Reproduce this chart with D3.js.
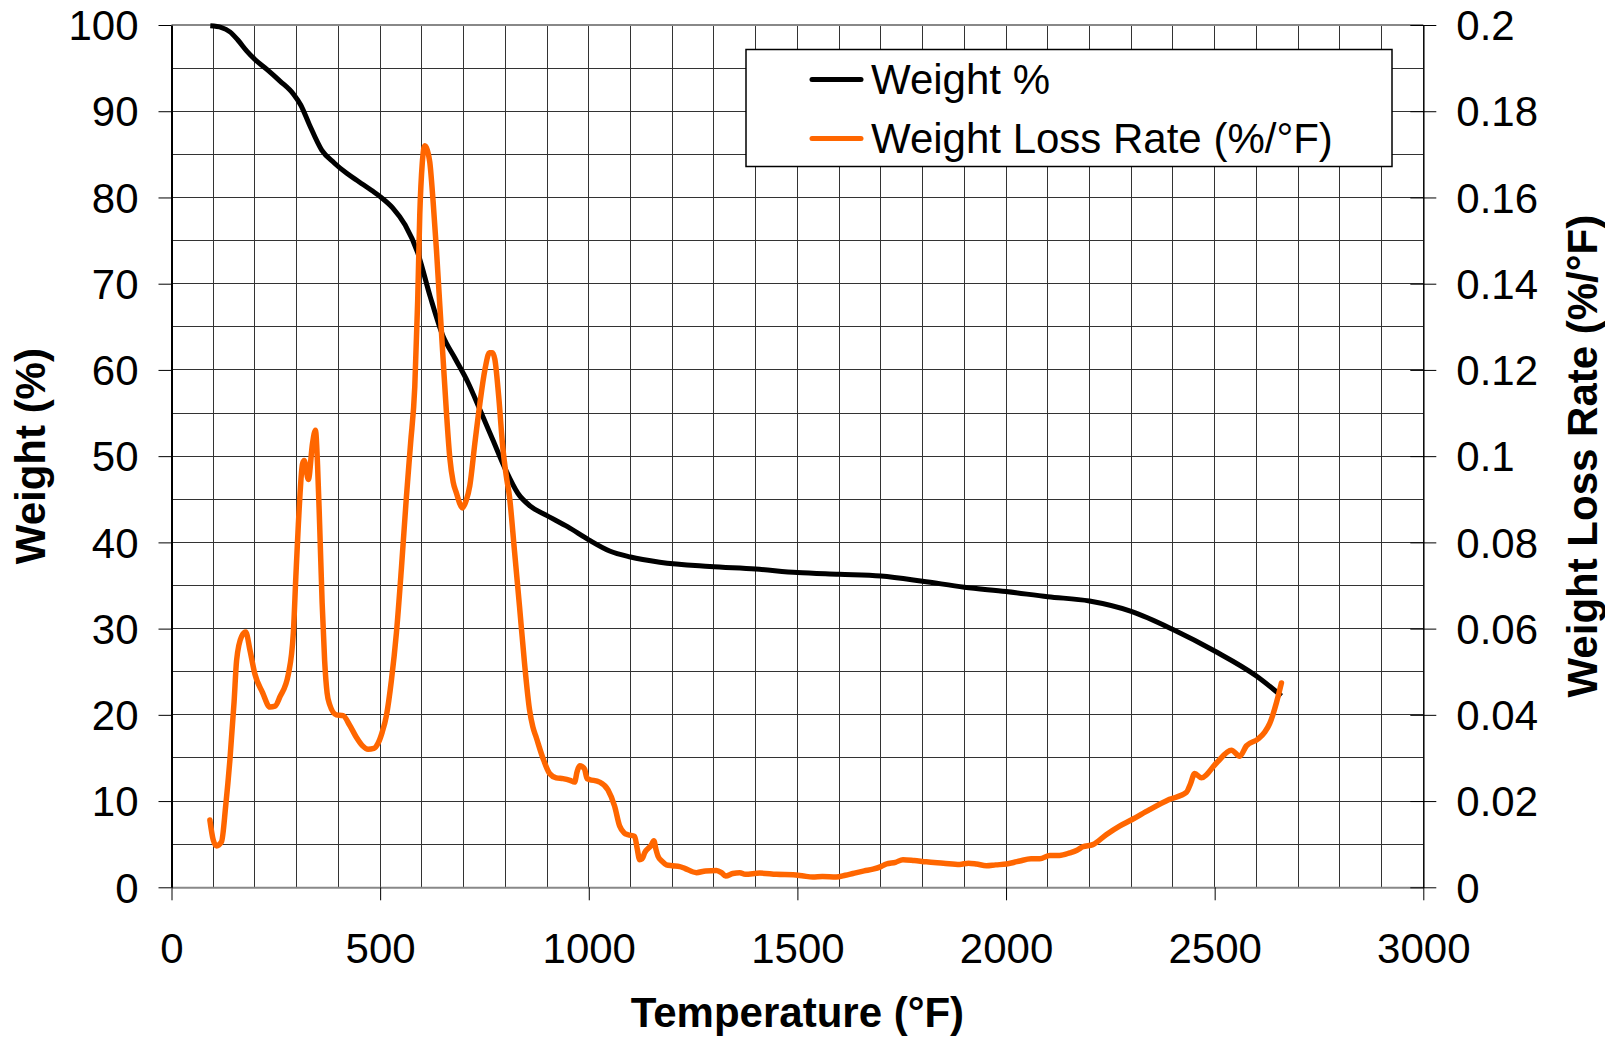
<!DOCTYPE html>
<html>
<head>
<meta charset="utf-8">
<script src="https://cdn.jsdelivr.net/npm/d3@7"></script>
<style>
  body { margin: 0; background: white; }
  svg { display: block; font-family: "Liberation Sans", Arial, sans-serif; }
  .grid line { stroke: #333; stroke-width: 1; shape-rendering: crispEdges; }
  .axis text { font-size: 42px; fill: black; }
  .axis-title { font-size: 42px; font-weight: bold; }
  .legend text { font-size: 42px; }
</style>
</head>
<body>
<div class="wrapper"></div>
<script>
const w = 1605
const h = 1037
const plotLeft = 171.5
const plotRight = 1423.3
const plotTop = 25
const plotBottom = 887.3

// Weight % curve
const weightTemps = [93, 120, 140, 160, 180, 200, 230, 260, 292, 310, 330, 360, 390, 420, 450, 480, 500, 530, 560, 590, 620, 650, 680, 710, 740, 770, 800, 830, 860, 900, 950, 1000, 1050, 1100, 1170, 1290, 1400, 1500, 1600, 1700, 1800, 1900, 2000, 2100, 2200, 2300, 2400, 2500, 2600, 2660]
const weightPct = [99.9, 99.7, 99.2, 98.2, 97.0, 96.0, 94.8, 93.5, 92.0, 90.7, 88.5, 85.5, 84.0, 82.8, 81.8, 80.8, 80.1, 78.8, 76.8, 73.6, 68.5, 64.0, 61.3, 58.6, 55.3, 51.9, 48.5, 45.7, 44.2, 43.1, 41.8, 40.3, 39.0, 38.3, 37.7, 37.2, 36.9, 36.5, 36.3, 36.1, 35.5, 34.8, 34.3, 33.7, 33.2, 32.0, 29.9, 27.4, 24.5, 22.2]

// Weight loss rate (%/°F) curve
const rateTemps = [92, 100, 108, 120, 130, 140, 150, 156, 168, 178, 188, 200, 218, 236, 248, 260, 280, 292, 298, 304,
  314, 318, 328, 338, 345, 350, 355, 361, 367, 373, 379, 395, 411, 427, 443, 458, 471, 485, 495, 505,
  515, 527, 539, 551, 563, 573, 583, 590, 595, 601, 607, 613, 619, 627, 635, 643, 651, 659, 667, 675,
  683, 690, 697, 706, 715, 727, 739, 751, 762, 769, 775, 784, 794, 802, 810, 822, 834, 846, 858, 866,
  874, 890, 906, 922, 938, 955, 966, 972, 978, 984, 990, 996, 1002, 1026, 1046, 1062, 1074, 1085, 1094, 1110,
  1116, 1122, 1128, 1134, 1150, 1156, 1161, 1166, 1176, 1186, 1200, 1218, 1230, 1258, 1280, 1306, 1318, 1328, 1345, 1362,
  1375, 1410, 1450, 1490, 1515, 1537, 1560, 1593, 1615, 1633, 1660, 1681, 1700, 1713, 1735, 1753, 1780, 1809, 1850, 1889,
  1910, 1929, 1953, 1975, 2001, 2020, 2033, 2060, 2081, 2105, 2128, 2153, 2170, 2184, 2208, 2240, 2272, 2300, 2344, 2392,
  2432, 2442, 2452, 2468, 2504, 2540, 2560, 2576, 2604, 2620, 2632, 2648, 2660]
const rateVals = [0.0156, 0.011, 0.0096, 0.0106, 0.019, 0.0296, 0.043, 0.0526, 0.0582, 0.0592, 0.055, 0.0494, 0.0452, 0.0418, 0.042, 0.0442, 0.0494, 0.059, 0.072, 0.0842,
  0.0982, 0.099, 0.0946, 0.103, 0.106, 0.098, 0.0842, 0.066, 0.0526, 0.045, 0.0424, 0.04, 0.0398, 0.0376, 0.0348, 0.0328, 0.032, 0.0322, 0.0334, 0.036,
  0.0398, 0.048, 0.059, 0.074, 0.0906, 0.103, 0.116, 0.136, 0.156, 0.168, 0.172, 0.171, 0.1682, 0.159, 0.1478, 0.135, 0.1224, 0.11, 0.0996, 0.094,
  0.0914, 0.0892, 0.088, 0.0896, 0.0932, 0.103, 0.1122, 0.12, 0.124, 0.124, 0.1224, 0.114, 0.102, 0.0956, 0.0906, 0.078, 0.0652, 0.052, 0.0412, 0.0372,
  0.0348, 0.03, 0.0264, 0.0254, 0.0252, 0.0248, 0.0244, 0.0268, 0.0282, 0.028, 0.0274, 0.0252, 0.025, 0.0244, 0.0226, 0.0188, 0.0142, 0.0126, 0.0122, 0.0118,
  0.009, 0.0064, 0.0066, 0.008, 0.0098, 0.0108, 0.0088, 0.0072, 0.006, 0.0052, 0.005, 0.0048, 0.0044, 0.0034, 0.0038, 0.0039, 0.0034, 0.0026, 0.0032, 0.0034,
  0.003, 0.0033, 0.003, 0.0029, 0.0026, 0.0024, 0.0025, 0.0024, 0.0028, 0.0032, 0.0038, 0.0042, 0.0048, 0.0054, 0.0058, 0.0064, 0.0062, 0.0059, 0.0056, 0.0053,
  0.0056, 0.0054, 0.005, 0.0052, 0.0054, 0.0058, 0.0061, 0.0066, 0.0066, 0.0074, 0.0074, 0.008, 0.0086, 0.0094, 0.0099, 0.0122, 0.0142, 0.0156, 0.018, 0.0204,
  0.022, 0.024, 0.0264, 0.0254, 0.0288, 0.0318, 0.0304, 0.0328, 0.0344, 0.036, 0.038, 0.0428, 0.0474]

const xTicks = [0, 500, 1000, 1500, 2000, 2500, 3000]
const yTicks = [0, 10, 20, 30, 40, 50, 60, 70, 80, 90, 100]
const rateTicks = [0, 0.02, 0.04, 0.06, 0.08, 0.1, 0.12, 0.14, 0.16, 0.18, 0.2]
const seriesNames = ["Weight %", "Weight Loss Rate (%/°F)"]
const seriesColors = ["#000000", "#ff6600"]

const xScale = d3.scaleLinear().domain([0, 3000]).range([plotLeft, plotRight])
const yScale = d3.scaleLinear().domain([0, 100]).range([plotBottom, plotTop])
const rScale = d3.scaleLinear().domain([0, 0.2]).range([plotBottom, plotTop])

const svg = d3.select(".wrapper")
  .append("svg")
  .attr("width", w)
  .attr("height", h)

// grid
const grid = svg.append("g").attr("class", "grid")
grid.selectAll(".vg")
  .data(d3.range(100, 3000, 100))
  .enter()
  .append("line")
  .attr("x1", (d) => xScale(d))
  .attr("x2", (d) => xScale(d))
  .attr("y1", plotTop)
  .attr("y2", plotBottom)
grid.selectAll(".hg")
  .data(d3.range(5, 100, 5))
  .enter()
  .append("line")
  .attr("x1", plotLeft)
  .attr("x2", plotRight)
  .attr("y1", (d) => yScale(d))
  .attr("y2", (d) => yScale(d))

// plot frame top
svg.append("line")
  .attr("x1", plotLeft).attr("x2", plotRight)
  .attr("y1", plotTop).attr("y2", plotTop)
  .attr("stroke", "#888").attr("stroke-width", 2)

// axes
const xAxis = svg.append("g")
  .attr("class", "axis")
  .attr("transform", "translate(0, " + plotBottom + ")")
  .call(d3.axisBottom(xScale).tickValues(xTicks).tickFormat(d3.format("d")).tickSizeInner(13).tickSizeOuter(0).tickPadding(33))
xAxis.select(".domain").attr("stroke", "#888").attr("stroke-width", 2)

const yAxis = svg.append("g")
  .attr("class", "axis")
  .attr("transform", "translate(" + plotLeft + ", 0)")
  .call(d3.axisLeft(yScale).tickValues(yTicks).tickSizeInner(13).tickSizeOuter(0).tickPadding(20))
yAxis.select(".domain").attr("stroke-width", 2)
yAxis.selectAll("text").attr("dy", "0.35em")

const rAxis = svg.append("g")
  .attr("class", "axis")
  .attr("transform", "translate(" + plotRight + ", 0)")
  .call(d3.axisRight(rScale).tickValues(rateTicks).tickFormat((d) => String(d)).tickSizeInner(13).tickSizeOuter(0).tickPadding(20))
rAxis.select(".domain").attr("stroke-width", 1.5)
rAxis.selectAll(".tick line").attr("x1", -13).attr("x2", 13)
rAxis.selectAll("text").attr("dy", "0.35em")

// lines
const weightData = weightTemps.map((t, i) => [t, weightPct[i]])
const rateData = rateTemps.map((t, i) => [t, rateVals[i]])

svg.append("path")
  .datum(weightData)
  .attr("fill", "none")
  .attr("stroke", seriesColors[0])
  .attr("stroke-width", 5)
  .attr("d", d3.line().x((d) => xScale(d[0])).y((d) => yScale(d[1])).curve(d3.curveMonotoneX))

svg.append("path")
  .datum(rateData)
  .attr("fill", "none")
  .attr("stroke", seriesColors[1])
  .attr("stroke-width", 5.5)
  .attr("stroke-linejoin", "round")
  .attr("stroke-linecap", "round")
  .attr("d", d3.line().x((d) => xScale(d[0])).y((d) => rScale(d[1])).curve(d3.curveMonotoneX))

// axis titles
svg.append("text")
  .attr("class", "axis-title")
  .attr("x", (plotLeft + plotRight) / 2)
  .attr("y", 1027)
  .attr("text-anchor", "middle")
  .text("Temperature (°F)")

svg.append("text")
  .attr("class", "axis-title")
  .attr("transform", "translate(45, " + (plotTop + plotBottom) / 2 + ") rotate(-90)")
  .attr("text-anchor", "middle")
  .text("Weight (%)")

svg.append("text")
  .attr("class", "axis-title")
  .attr("transform", "translate(1597, " + (plotTop + plotBottom) / 2 + ") rotate(-90)")
  .attr("text-anchor", "middle")
  .text("Weight Loss Rate (%/°F)")

// legend
const legend = svg.append("g").attr("class", "legend")
legend.append("rect")
  .attr("x", 746)
  .attr("y", 49.5)
  .attr("width", 646)
  .attr("height", 117)
  .attr("fill", "white")
  .attr("stroke", "black")
  .attr("stroke-width", 1.5)

const rows = legend.selectAll(".row")
  .data(seriesNames)
  .enter()
  .append("g")
  .attr("transform", (d, i) => "translate(0, " + (i * 59) + ")")
rows.append("line")
  .attr("x1", 812)
  .attr("x2", 861)
  .attr("y1", 79.5)
  .attr("y2", 79.5)
  .attr("stroke", (d, i) => seriesColors[i])
  .attr("stroke-width", 5)
  .attr("stroke-linecap", "round")
rows.append("text")
  .attr("x", 871)
  .attr("y", 94)
  .text((d) => d)
</script>
</body>
</html>
